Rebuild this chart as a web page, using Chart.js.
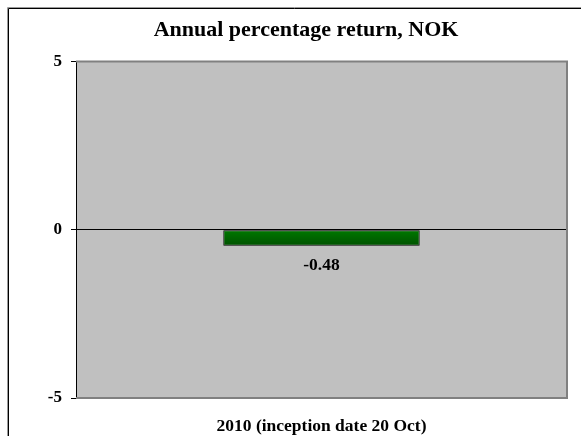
<!DOCTYPE html>
<html>
<head>
<meta charset="utf-8">
<script src="https://cdn.jsdelivr.net/npm/chart.js@4"></script>
<style>
  html, body { margin: 0; padding: 0; background: #fff; }
  #wrap { width: 581px; height: 436px; }
</style>
</head>
<body>
<div id="wrap"><canvas id="ret"></canvas></div>
<script>
// data
const categories = ['2010 (inception date 20 Oct)'];
const returnsNok = [-0.48];
const yTicks = [-5, 0, 5];

const SERIF = '"Liberation Serif", "Times New Roman", serif';

// grey plot area + frame around the whole chart
const plotFrame = {
    id: 'plotFrame',
    beforeDraw(chart) {
        const { ctx, chartArea: a } = chart;
        ctx.save();
        ctx.fillStyle = '#c0c0c0';
        ctx.fillRect(a.left, a.top, a.right - a.left, a.bottom - a.top);
        // outer frame (cropped on right/bottom)
        ctx.strokeStyle = '#9a9a9a';
        ctx.lineWidth = 1;
        ctx.beginPath();
        ctx.moveTo(7.5, chart.height); ctx.lineTo(7.5, 7.5); ctx.lineTo(chart.width, 7.5);
        ctx.stroke();
        ctx.strokeStyle = '#000';
        ctx.beginPath();
        ctx.moveTo(8.5, chart.height); ctx.lineTo(8.5, 8.5); ctx.lineTo(chart.width, 8.5);
        ctx.stroke();
        ctx.restore();
    },
    afterDraw(chart) {
        const { ctx, chartArea: a } = chart;
        ctx.save();
        ctx.strokeStyle = '#808080';
        ctx.lineWidth = 2;
        ctx.beginPath();
        ctx.moveTo(a.left, a.top); ctx.lineTo(a.right, a.top);
        ctx.lineTo(a.right, a.bottom); ctx.lineTo(a.left, a.bottom);
        ctx.stroke();
        ctx.restore();
    }
};

// value label under the bar
const barValues = {
    id: 'barValues',
    afterDatasetsDraw(chart) {
        const { ctx } = chart;
        const meta = chart.getDatasetMeta(0);
        ctx.save();
        ctx.font = 'bold 17.5px ' + SERIF;
        ctx.fillStyle = '#000';
        ctx.textAlign = 'center';
        ctx.textBaseline = 'middle';
        meta.data.forEach((bar, i) => {
            const v = returnsNok[i];
            ctx.fillText(v.toFixed(2), bar.x, bar.y + 20);
        });
        ctx.restore();
    }
};

new Chart(document.getElementById('ret'), {
    type: 'bar',
    data: {
        labels: categories,
        datasets: [{
            label: 'NOK',
            data: returnsNok,
            backgroundColor: (c) => {
                const a = c.chart.chartArea;
                if (!a) return '#006400';
                const y0 = c.chart.scales.y.getPixelForValue(0);
                const g = c.chart.ctx.createLinearGradient(0, y0, 0, y0 + 17);
                g.addColorStop(0, '#007a00');
                g.addColorStop(1, '#004f00');
                return g;
            },
            borderColor: '#000',
            borderWidth: 1,
            borderSkipped: false,
            barPercentage: 0.8,
            categoryPercentage: 0.5
        }]
    },
    options: {
        responsive: true,
        maintainAspectRatio: false,
        animation: false,
        layout: { padding: { left: 45, right: 14, top: 0, bottom: 0 } },
        scales: {
            x: {
                grid: { display: false },
                border: { display: false },
                ticks: {
                    color: '#000',
                    padding: 10,
                    font: { family: SERIF, size: 17.5, weight: 'bold' }
                },
                afterFit: (s) => { s.height = 38; }
            },
            y: {
                min: -5,
                max: 5,
                afterBuildTicks: (s) => { s.ticks = yTicks.map(v => ({ value: v })); },
                grid: {
                    color: (c) => c.tick && c.tick.value === 0 ? '#000' : 'rgba(0,0,0,0)',
                    tickColor: '#000',
                    tickLength: 5,
                    lineWidth: 1
                },
                border: { display: true, color: '#000', width: 1 },
                ticks: {
                    color: '#000',
                    padding: 9,
                    font: { family: SERIF, size: 17, weight: 'bold' }
                },
                afterFit: (s) => { s.width = 31; }
            }
        },
        plugins: {
            legend: { display: false },
            tooltip: { enabled: false },
            title: {
                display: true,
                text: 'Annual percentage return, NOK',
                color: '#000',
                font: { family: SERIF, size: 22, weight: 'bold' },
                padding: { top: 17, bottom: 18 }
            }
        }
    },
    plugins: [plotFrame, barValues]
});
</script>
</body>
</html>
